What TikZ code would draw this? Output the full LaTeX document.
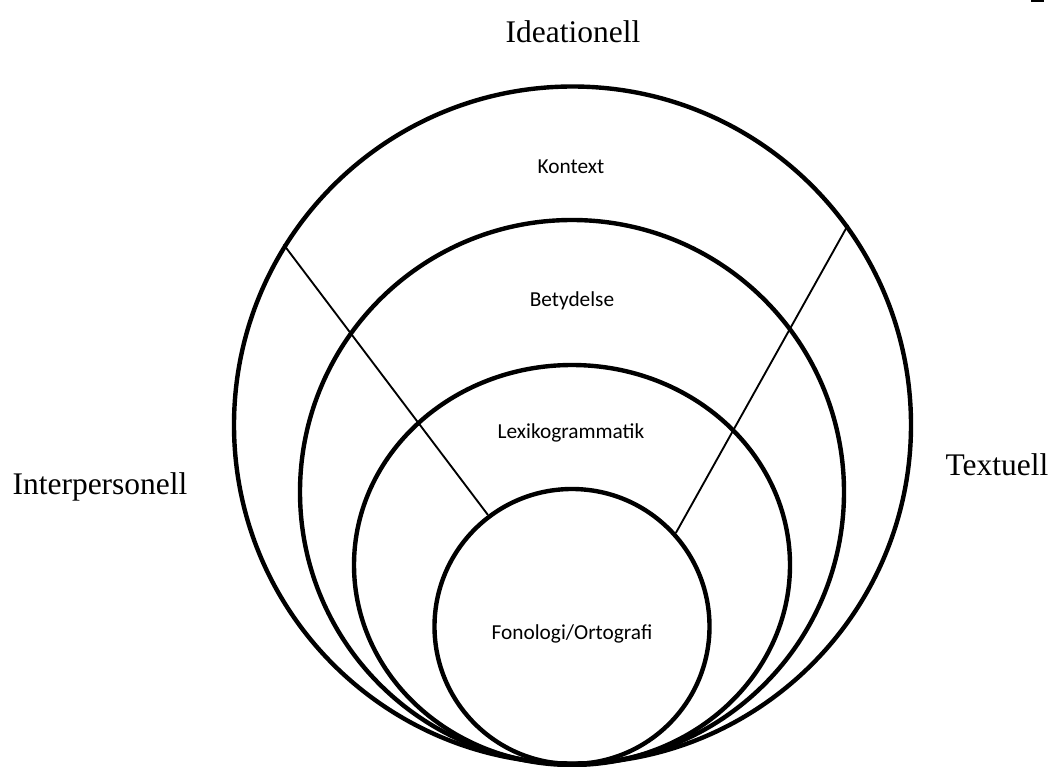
\documentclass[tikz,border=0pt]{standalone}
\usepackage{fontspec}
\setmainfont{Liberation Serif}
\newfontfamily\calibrifont{Carlito}
\usepackage{tikz}
\usetikzlibrary{positioning,shapes.geometric}

\tikzset{
  ring/.style={draw, circle, line width=3.3pt, inner sep=0pt},
  oval/.style={draw, ellipse, line width=3.3pt, inner sep=0pt},
  divider/.style={line width=1.4pt},
  metalabel/.style={inner sep=0.75pt, font=\fontsize{23.6}{28}\selectfont},
  stratlabel/.style={inner sep=0.75pt, font=\calibrifont\fontsize{16}{19}\selectfont}
}

\begin{document}
\begin{tikzpicture}[x=0.75pt,y=0.75pt,yscale=-1,xscale=1]
\useasboundingbox (0,0) rectangle (1053,767);

%Shape: Circle [outer, Kontext]
\node [ring, minimum size=507.75pt] (kontext) at (572.5,425) {};
%Shape: Circle [Betydelse]
\node [ring, minimum size=408pt] (betydelse) at (572,492) {};
%Shape: Ellipse [Lexikogrammatik]
\node [oval, minimum width=327pt, minimum height=300pt] (lexiko) at (572,565) {};
%Shape: Circle [inner, Fonologi]
\node [ring, minimum size=206.25pt] (fonologi) at (572,626.5) {};

%Straight Lines
\draw [divider] (kontext.148) -- (fonologi.127) ;
%Straight Lines
\draw [divider] (kontext.36.5) -- (fonologi.42) ;

%Shape: Rectangle
\fill (1031,0) rectangle (1044,2) ;

% Text Node
\node [metalabel] (ideationell) at (573,32) {Ideationell};
% Text Node
\node [metalabel] (interpersonell) at (100,487) {Interpersonell};
% Text Node
\node [metalabel] (textuell) at (997,465) {Textuell};
% Text Node
\node [stratlabel] (kontextlbl) at (571,167) {Kontext};
% Text Node
\node [stratlabel] (betydelselbl) at (572,301) {Betydelse};
% Text Node
\node [stratlabel] (lexikolbl) at (571,433) {Lexikogrammatik};
% Text Node
\node [stratlabel] (fonologilbl) at (572,634) {Fonologi/Ortografi};

\end{tikzpicture}
\end{document}
